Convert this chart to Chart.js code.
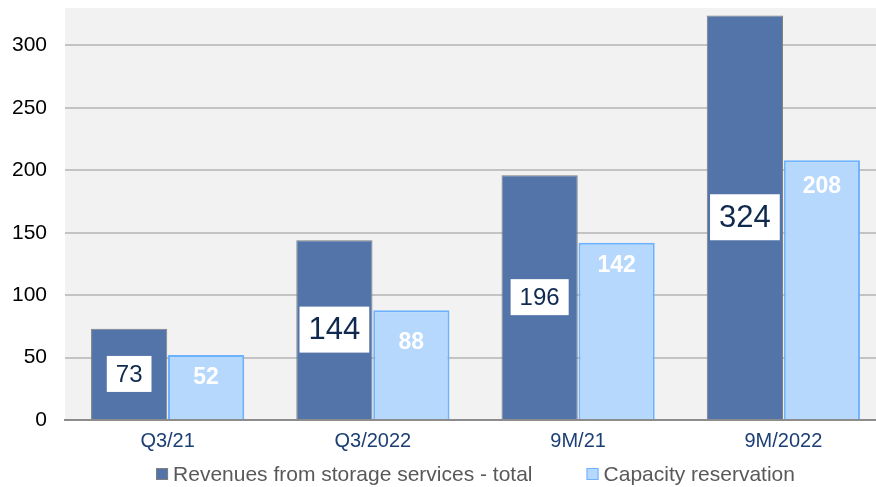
<!DOCTYPE html>
<html>
<head>
<meta charset="utf-8">
<script src="https://cdn.jsdelivr.net/npm/chart.js@4"></script>
<style>
html,body{margin:0;padding:0;background:#fff;}
#wrap{width:876px;height:487px;position:relative;}
</style>
</head>
<body>
<div id="wrap"><canvas id="c" width="876" height="487"></canvas></div>
<script>
const categories = ["Q3/21", "Q3/2022", "9M/21", "9M/2022"];
const revenuesTotal = [73, 144, 196, 324];
const capacityReservation = [52, 88, 142, 208];
const seriesNames = ["Revenues from storage services - total", "Capacity reservation"];
const yTickValues = [0, 50, 100, 150, 200, 250, 300];

// style-only arrays for the value labels
const darkLabelFontSizes = [24, 31, 24, 31];
const lightLabelOffsets = [23, 33, 23, 26];

const FONT = '"Liberation Sans", Arial, sans-serif';

// plot area extends slightly past the right edge of the picture
const extendRight = {
  id: 'extendRight',
  afterLayout(chart) {
    const xs = chart.scales.x;
    xs.right += 10;
    xs.width += 10;
    xs.configure();
    chart.chartArea.right += 10;
    chart.chartArea.width += 10;
  }
};

const bgPlugin = {
  id: 'plotBg',
  beforeDraw(chart) {
    const {ctx, chartArea: a} = chart;
    ctx.save();
    ctx.fillStyle = '#f2f2f2';
    ctx.fillRect(a.left, a.top, a.right - a.left, a.bottom - a.top);
    ctx.restore();
  }
};

const labelPlugin = {
  id: 'valueLabels',
  afterDatasetsDraw(chart) {
    const ctx = chart.ctx;
    ctx.save();
    ctx.textAlign = 'center';
    ctx.textBaseline = 'middle';
    const m0 = chart.getDatasetMeta(0);
    m0.data.forEach((bar, i) => {
      const v = chart.data.datasets[0].data[i];
      const fs = darkLabelFontSizes[i];
      ctx.font = fs + 'px ' + FONT;
      const txt = String(v);
      const tw = ctx.measureText(txt).width;
      const w = tw + 18;
      const h = fs > 26 ? 46 : 36;
      const cy = (bar.y + bar.base) / 2;
      ctx.fillStyle = '#ffffff';
      ctx.fillRect(bar.x - w / 2, cy - h / 2, w, h);
      ctx.fillStyle = '#0f2a4e';
      ctx.fillText(txt, bar.x, cy + 1);
    });
    const m1 = chart.getDatasetMeta(1);
    m1.data.forEach((bar, i) => {
      const v = chart.data.datasets[1].data[i];
      ctx.font = 'bold 23px ' + FONT;
      ctx.fillStyle = '#ffffff';
      ctx.fillText(String(v), bar.x, bar.y + lightLabelOffsets[i]);
    });
    ctx.restore();
  }
};

const legendPlugin = {
  id: 'customLegend',
  afterDraw(chart) {
    const ctx = chart.ctx;
    const a = chart.chartArea;
    ctx.save();
    ctx.font = '21px ' + FONT;
    ctx.textBaseline = 'middle';
    ctx.textAlign = 'left';
    const box = 12, gap = 5, itemGap = 54;
    const items = chart.data.datasets.map(ds => ({
      text: ds.label, fill: ds.backgroundColor, stroke: ds.borderColor,
      w: ctx.measureText(ds.label).width
    }));
    let total = 0;
    items.forEach((it, i) => { total += box + gap + it.w + (i ? itemGap : 0); });
    let x = (a.left + a.right) / 2 - total / 2;
    const y = 474;
    items.forEach((it, i) => {
      if (i) x += itemGap;
      ctx.fillStyle = it.fill;
      ctx.fillRect(x, y - box / 2, box, box);
      ctx.strokeStyle = it.stroke;
      ctx.lineWidth = 1;
      ctx.strokeRect(x + 0.5, y - box / 2 + 0.5, box - 1, box - 1);
      x += box + gap;
      ctx.fillStyle = '#595959';
      ctx.fillText(it.text, x, y + 1);
      x += it.w;
    });
    ctx.restore();
  }
};

new Chart(document.getElementById('c'), {
  type: 'bar',
  data: {
    labels: categories,
    datasets: [
      {
        label: seriesNames[0],
        data: revenuesTotal,
        backgroundColor: '#5374a8',
        borderColor: '#7f7f7f',
        borderWidth: 1,
        categoryPercentage: 0.75,
        barPercentage: 0.99
      },
      {
        label: seriesNames[1],
        data: capacityReservation,
        backgroundColor: '#b6d8fd',
        borderColor: '#6cb2ff',
        borderWidth: 2,
        categoryPercentage: 0.75,
        barPercentage: 0.99
      }
    ]
  },
  options: {
    responsive: false,
    animation: false,
    layout: { padding: { top: 8, right: 0, left: 0, bottom: 0 } },
    plugins: {
      tooltip: { enabled: false },
      legend: { display: false }
    },
    scales: {
      x: {
        grid: { display: false },
        border: { display: true, color: '#8c8c8c', width: 2 },
        afterFit(scale) { scale.height = 67; },
        ticks: {
          color: '#1c3f75',
          font: { size: 20, family: FONT },
          padding: 1
        }
      },
      y: {
        min: 0,
        max: 330,
        afterBuildTicks(scale) {
          scale.ticks = yTickValues.map(v => ({ value: v }));
        },
        afterFit(scale) {
          scale.width = 65;
          scale.paddingTop = 0;
          scale.paddingBottom = 0;
        },
        border: { display: false },
        grid: {
          color: ctx => (ctx.tick && ctx.tick.value === 0) ? 'rgba(0,0,0,0)' : '#c3c3c3',
          lineWidth: 2,
          drawTicks: false
        },
        ticks: {
          color: '#000000',
          font: { size: 21, family: FONT },
          padding: 18
        }
      }
    }
  },
  plugins: [extendRight, bgPlugin, labelPlugin, legendPlugin]
});
</script>
</body>
</html>
